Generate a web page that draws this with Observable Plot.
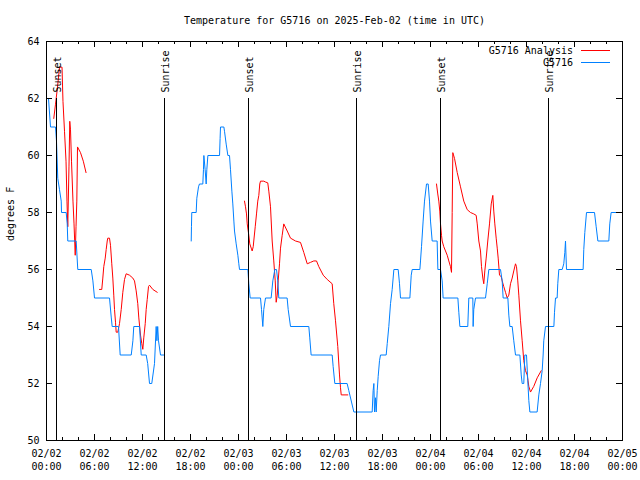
<!DOCTYPE html>
<html><head><meta charset="utf-8">
<script src="https://cdn.jsdelivr.net/npm/d3@7"></script>
<script src="https://cdn.jsdelivr.net/npm/@observablehq/plot@0.6"></script>
<style>
html,body{margin:0;padding:0;background:#fff;}
#chart{position:relative;width:640px;height:480px;}
</style></head><body><div id="chart"></div>
<script>
// ---- data (hours since 2025-02-02 00:00 UTC, temperature °F) ----
const titleText = "Temperature for G5716 on 2025-Feb-02 (time in UTC)";
const yLabel = "degrees F";
const seriesNames = ["G5716 Analysis", "G5716"];
const seriesColors = ["#ff0000", "#0080ff"];
const yTicks = [50, 52, 54, 56, 58, 60, 62, 64];
const majorTickHours = [0, 6, 12, 18, 24, 30, 36, 42, 48, 54, 60, 66, 72];
const minorTickHours = d3.range(0, 73, 2);
const sunLabels = ["Sunset", "Sunrise", "Sunset", "Sunrise", "Sunset", "Sunrise"];
const sunHours = [1.3, 14.8, 25.3, 38.8, 49.3, 62.8];

const analysis1 = [[0.91,61.3],[1.125,61.8],[1.375,62.4],[1.625,63.1],[1.94,63.1],[2.06,61.9],[2.25,60.85],[2.44,59.8],[2.56,58.4],[2.66,57.5],[2.81,59.6],[2.91,61.2],[3.0,60.9],[3.125,59.8],[3.31,58.4],[3.44,57.6],[3.59,56.5],[3.69,57.5],[3.79,58.4],[3.875,60.3],[4.25,60.1],[4.6,59.8],[4.94,59.4]];
const analysis2 = [[6.625,55.3],[6.91,55.3],[7.04,55.7],[7.16,56.1],[7.34,56.4],[7.46,56.7],[7.59,57.0],[7.66,57.1],[7.875,57.1],[8.0,56.85],[8.16,56.2],[8.29,55.7],[8.41,55.1],[8.5,54.6],[8.625,54.15],[8.71,53.8],[8.91,53.8],[9.125,54.1],[9.34,54.6],[9.54,55.2],[9.75,55.65],[9.96,55.85],[10.375,55.8],[10.79,55.7],[11.0,55.6],[11.21,55.25],[11.41,54.8],[11.54,54.3],[11.75,53.7],[11.91,53.4],[12.04,53.2],[12.16,53.6],[12.34,54.1],[12.46,54.6],[12.59,54.95],[12.75,55.4],[12.875,55.45],[13.29,55.3],[13.84,55.2]];
const analysis3 = [[24.75,58.4],[24.875,58.2],[25.0,57.95],[25.09,57.6],[25.29,57.2],[25.41,56.9],[25.59,56.75],[25.71,56.65],[25.84,56.8],[25.91,57.0],[26.09,57.5],[26.25,57.95],[26.41,58.4],[26.54,58.6],[26.66,59.0],[26.75,59.1],[27.16,59.1],[27.375,59.07],[27.66,59.04],[27.79,58.75],[28.0,58.2],[28.21,57.0],[28.41,56.3],[28.59,55.6],[28.71,54.85],[28.84,55.1],[28.96,55.6],[29.125,56.2],[29.25,56.75],[29.46,57.2],[29.66,57.6],[30.09,57.35],[30.5,57.1],[31.125,57.0],[31.75,56.95],[32.16,56.6],[32.59,56.2],[33.0,56.25],[33.41,56.3],[33.75,56.3],[34.04,56.1],[34.59,55.8],[35.09,55.65],[35.71,55.5],[35.91,54.8],[36.125,54.2],[36.41,53.3],[36.625,52.3],[36.75,51.85],[36.84,51.6],[37.66,51.6]];
const analysis4 = [[48.75,59.0],[48.91,58.65],[49.04,58.4],[49.16,58.05],[49.25,57.6],[49.375,57.2],[49.46,57.0],[49.66,56.8],[49.875,56.65],[50.09,56.5],[50.29,56.3],[50.5,56.1],[50.625,55.9],[50.71,58.0],[50.79,60.1],[51.0,59.9],[51.34,59.4],[51.75,58.9],[52.16,58.4],[52.59,58.1],[53.0,58.0],[53.41,57.95],[53.71,57.9],[53.84,57.6],[54.04,57.0],[54.25,56.65],[54.375,56.1],[54.54,55.7],[54.66,55.5],[54.79,55.95],[54.96,56.4],[55.16,57.0],[55.375,57.6],[55.59,58.3],[55.79,58.6],[55.91,58.05],[56.04,57.6],[56.21,57.1],[56.34,56.75],[56.46,56.4],[56.625,55.8],[56.84,55.75],[56.96,55.6],[57.16,55.4],[57.375,55.2],[57.59,55.0],[57.79,55.1],[58.0,55.5],[58.21,55.7],[58.41,55.95],[58.625,56.2],[58.75,56.1],[58.91,55.6],[59.04,55.1],[59.25,54.2],[59.46,53.5],[59.66,52.8],[59.875,52.45],[60.09,52.3],[60.29,51.9],[60.5,51.7],[60.91,51.9],[61.34,52.2],[61.84,52.45]];

const observed1 = [[0.06,62],[0.25,62],[0.5,61],[1.125,61],[1.25,60.5],[1.41,59.2],[1.625,58.8],[1.84,58.4],[1.875,58],[2.46,58],[2.59,57.6],[2.66,57],[3.71,57],[3.91,56],[5.59,56],[5.8,55.6],[6.0,55],[7.875,55],[8.1,54.3],[8.21,54],[9.0,54],[9.21,53],[10.59,53],[10.8,53.5],[10.91,54],[11.625,54],[11.84,53],[12.46,53],[12.65,52.7],[12.875,52],[13.16,52],[13.5,52.7],[13.71,54],[13.8,53.5],[13.9,54],[14.0,53.5],[14.25,53],[14.75,53]];
const observed2 = [[18.09,57],[18.12,57.5],[18.16,58],[18.71,58],[18.79,58.5],[19.0,58.9],[19.12,59],[19.54,59],[19.62,59.5],[19.67,60],[19.83,59.5],[19.96,59],[20.04,59.5],[20.17,60],[21.63,60],[21.7,60.6],[21.75,61],[22.17,61],[22.25,60.85],[22.46,60.4],[22.67,60],[22.875,60],[23.0,59.5],[23.17,58.75],[23.29,58.3],[23.42,57.7],[23.5,57.35],[23.71,56.9],[23.92,56.5],[24.04,56.2],[24.125,56],[25.17,56],[25.29,55.5],[25.46,55],[26.75,55],[26.875,54.6],[27.04,54],[27.16,54.6],[27.375,55],[28.08,55],[28.29,55.6],[28.54,56],[28.75,56],[28.91,55.6],[29.04,55],[30.08,55],[30.21,54.6],[30.5,54],[32.79,54],[32.91,53.6],[33.08,53],[35.71,53],[35.83,52.6],[36.04,52],[37.58,52],[37.79,51.75],[38.125,51.35],[38.42,51],[40.71,51],[40.83,51.75],[40.92,52],[41.0,51],[41.125,51.5],[41.21,51],[41.34,51.75],[41.46,52.25],[41.625,52.8],[41.75,53],[42.46,53],[42.59,53.4],[42.79,54],[43.0,54.8],[43.21,55.3],[43.42,56],[43.96,56],[44.125,55.5],[44.25,55],[45.42,55],[45.59,55.8],[45.71,56],[46.67,56],[46.75,56.3],[46.875,56.8],[47.08,57.7],[47.25,58.4],[47.5,59],[47.71,59],[47.875,58.4],[48.0,57.7],[48.21,57],[48.83,57],[48.92,56],[49.25,56],[49.46,55.6],[49.58,55],[51.42,55],[51.54,54.5],[51.67,54],[52.66,54],[52.79,55],[53.29,55],[53.33,54],[53.41,54.6],[53.625,55],[54.875,55],[55.09,55.5],[55.29,56],[56.75,56],[56.96,55.6],[57.08,55],[57.67,55],[57.79,54.4],[57.92,54],[58.21,54],[58.41,53.5],[58.625,53],[59.17,53],[59.34,52.3],[59.46,52],[59.66,52],[59.79,53],[60.0,53],[60.16,52.1],[60.29,51.4],[60.42,51],[61.33,51],[61.54,51.6],[61.75,52],[61.96,52.45],[62.08,53],[62.16,53.5],[62.375,54],[63.42,54],[63.5,54.5],[63.625,55],[63.83,55],[63.91,55.5],[64.04,56],[64.46,56],[64.66,56.2],[64.79,56.6],[64.875,57],[65.0,56],[67.08,56],[67.16,56.7],[67.29,57.3],[67.5,58],[68.5,58],[68.71,57.5],[68.92,57],[70.29,57],[70.41,57.6],[70.58,58],[72,58]];

// ---- build ----
const START = Date.UTC(2025, 1, 2);
const toDate = h => new Date(START + h * 3600e3);
const toRows = (segs) => segs.flatMap((s, i) => s.map(([h, v]) => ({t: toDate(h), v, seg: i})));
const analysisRows = toRows([analysis1, analysis2, analysis3, analysis4]);
const observedRows = toRows([observed1, observed2]);
const sunEvents = sunHours.map((h, i) => ({t: toDate(h), label: sunLabels[i]}));
const majorDates = majorTickHours.map(toDate);
const minorDates = minorTickHours.map(toDate);

const W = 640, H = 480, mL = 46, mR = 18, mT = 41, mB = 40;
const pw = W - mL - mR, ph = H - mT - mB;
const font = "'DejaVu Sans Mono', 'Liberation Mono', monospace";
const crisp = {stroke: "#000", strokeWidth: 1, shapeRendering: "crispEdges"};

const plot = Plot.plot({
  width: W, height: H,
  marginLeft: mL, marginRight: mR, marginTop: mT, marginBottom: mB,
  style: {fontFamily: font, fontSize: "10px", background: "#fff", color: "#000", overflow: "visible"},
  x: {type: "utc", domain: [toDate(0), toDate(72)]},
  y: {domain: [50, 64]},
  marks: [
    Plot.line(analysisRows, {x: "t", y: "v", z: "seg", stroke: seriesColors[0], strokeWidth: 1}),
    Plot.line(observedRows, {x: "t", y: "v", z: "seg", stroke: seriesColors[1], strokeWidth: 1}),
    Plot.ruleX(sunEvents, {x: "t", y1: 62, y2: 50, ...crisp}),
    Plot.text(sunEvents, {x: "t", y: 62, text: "label", rotate: -90, textAnchor: "start", dy: -6, dx: 1, fill: "#000"}),
    // inward ticks (bottom/top, minor and major)
    Plot.ruleX(minorDates, {insetTop: ph - 3, ...crisp}),
    Plot.ruleX(minorDates, {insetBottom: ph - 3, ...crisp}),
    Plot.ruleX(majorDates, {insetTop: ph - 6, ...crisp}),
    Plot.ruleX(majorDates, {insetBottom: ph - 6, ...crisp}),
    Plot.ruleY(yTicks, {insetRight: pw - 6, ...crisp}),
    Plot.ruleY(yTicks, {insetLeft: pw - 6, ...crisp}),
    Plot.frame(crisp),
    Plot.axisX(majorDates, {tickSize: 0, tickPadding: 8, tickFormat: d3.utcFormat("%m/%d\n%H:%M"), lineHeight: 1.25, label: null, fill: "#000"}),
    Plot.axisY(yTicks, {tickSize: 0, tickPadding: 7, label: null, fill: "#000"}),
    Plot.text([yLabel], {text: d => d, frameAnchor: "left", lineAnchor: "middle", dx: -36, rotate: -90, fill: "#000"}),
    Plot.text([titleText], {text: d => d, frameAnchor: "top", lineAnchor: "middle", dy: -21, fill: "#000"})
  ]
});
document.getElementById("chart").appendChild(plot);

// legend (text + sample lines) in the top-right corner of the frame
const svg = d3.select(plot);
const lg = svg.append("g").attr("font-family", font).attr("font-size", 10);
seriesNames.forEach((name, i) => {
  const y = mT + 9.5 + i * 12;
  lg.append("text").attr("x", W - mR - 49).attr("y", y).attr("dy", "0.32em")
    .attr("text-anchor", "end").attr("fill", "#000").text(name);
  lg.append("line").attr("x1", 581).attr("x2", 610).attr("y1", y).attr("y2", y)
    .attr("stroke", seriesColors[i]).attr("stroke-width", 1);
});
</script></body></html>
